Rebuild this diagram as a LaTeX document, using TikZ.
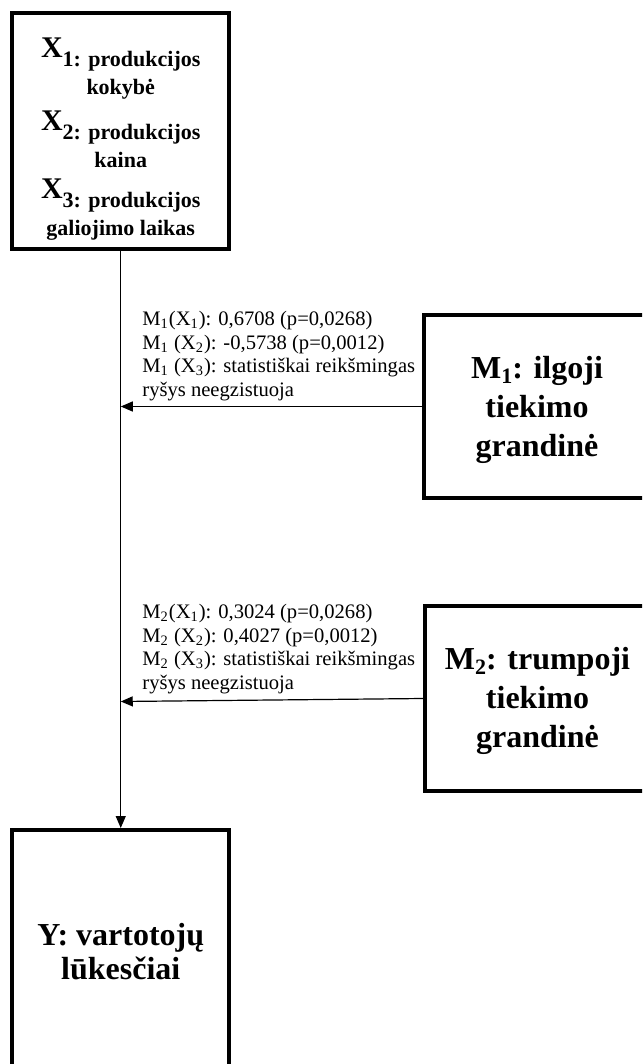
\documentclass[tikz,border=0pt]{standalone}
\usepackage{fontspec}
\setmainfont{Liberation Serif}
\usetikzlibrary{arrows.meta}
% large bold variable letter with its index set on the lower text line
\newcommand\bigvar[2]{\raisebox{4.5pt}{\fontsize{15}{15}\selectfont #1}#2}
% small lowered index after a bold letter
\newcommand\lowidx[1]{\raisebox{-2.5pt}{\fontsize{11}{11}\selectfont #1}}
\begin{document}
\begin{tikzpicture}[x=0.5pt,y=-0.5pt,
  box/.style={draw, line width=2pt, inner sep=0pt},
  boxtext/.style={align=center, inner sep=0pt},
  note/.style={align=left, inner sep=0pt, anchor=north west,
    font=\fontsize{10.3}{11.8}\selectfont},
  conn/.style={line width=0.6pt, -{Triangle[length=6pt,width=5pt]}}]
\path[use as bounding box, clip] (0,0) rectangle (642,1064);

% boxes
\node[box, minimum width=108.5pt, minimum height=118pt] (xbox) at (120.75,131) {};
\node[box, minimum width=113pt, minimum height=91.5pt] (m1box) at (537,406.5) {};
\node[box, minimum width=112.5pt, minimum height=92.5pt] (m2box) at (537.5,698.5) {};
\node[box, minimum width=108.5pt, minimum height=131pt] (ybox) at (120.75,961) {};

% box texts
\node[boxtext, font=\bfseries\fontsize{11}{14}\selectfont] (xtext) at (120.75,139)
  {\bigvar{X}{1: produkcijos}\\kokybė\\[4.5pt]
   \bigvar{X}{2: produkcijos}\\kaina\\[4.5pt]
   \bigvar{X}{3: produkcijos}\\galiojimo laikas};
\node[boxtext, font=\bfseries\fontsize{16}{19.5}\selectfont] (m1text) at (537,410)
  {M\lowidx{1}: ilgoji\\tiekimo\\grandinė};
\node[boxtext, font=\bfseries\fontsize{16}{19.5}\selectfont] (m2text) at (537.5,701)
  {M\lowidx{2}: trumpoji\\tiekimo\\grandinė};
\node[boxtext, font=\bfseries\fontsize{16}{17}\selectfont] (ytext) at (120.75,952)
  {Y: vartotojų\\lūkesčiai};

% connectors
\draw[conn] (xbox.south) -- (ybox.north);
\coordinate (t1) at (xbox.south |- m1box.west);
\coordinate (t2) at ([yshift=-1.5pt]xbox.south |- m2box.west);
\draw[conn] (m1box.west) -- (t1);
\draw[conn] (m2box.west) -- (t2);

% coefficient notes
\node[note] (n1) at (142,311)
  {M\textsubscript{1}(X\textsubscript{1}): 0,6708 (p=0,0268)\\
   M\textsubscript{1} (X\textsubscript{2}): -0,5738 (p=0,0012)\\
   M\textsubscript{1} (X\textsubscript{3}): statistiškai reikšmingas\\
   ryšys neegzistuoja};
\node[note] (n2) at (142,604)
  {M\textsubscript{2}(X\textsubscript{1}): 0,3024 (p=0,0268)\\
   M\textsubscript{2} (X\textsubscript{2}): 0,4027 (p=0,0012)\\
   M\textsubscript{2} (X\textsubscript{3}): statistiškai reikšmingas\\
   ryšys neegzistuoja};
\end{tikzpicture}
\end{document}
